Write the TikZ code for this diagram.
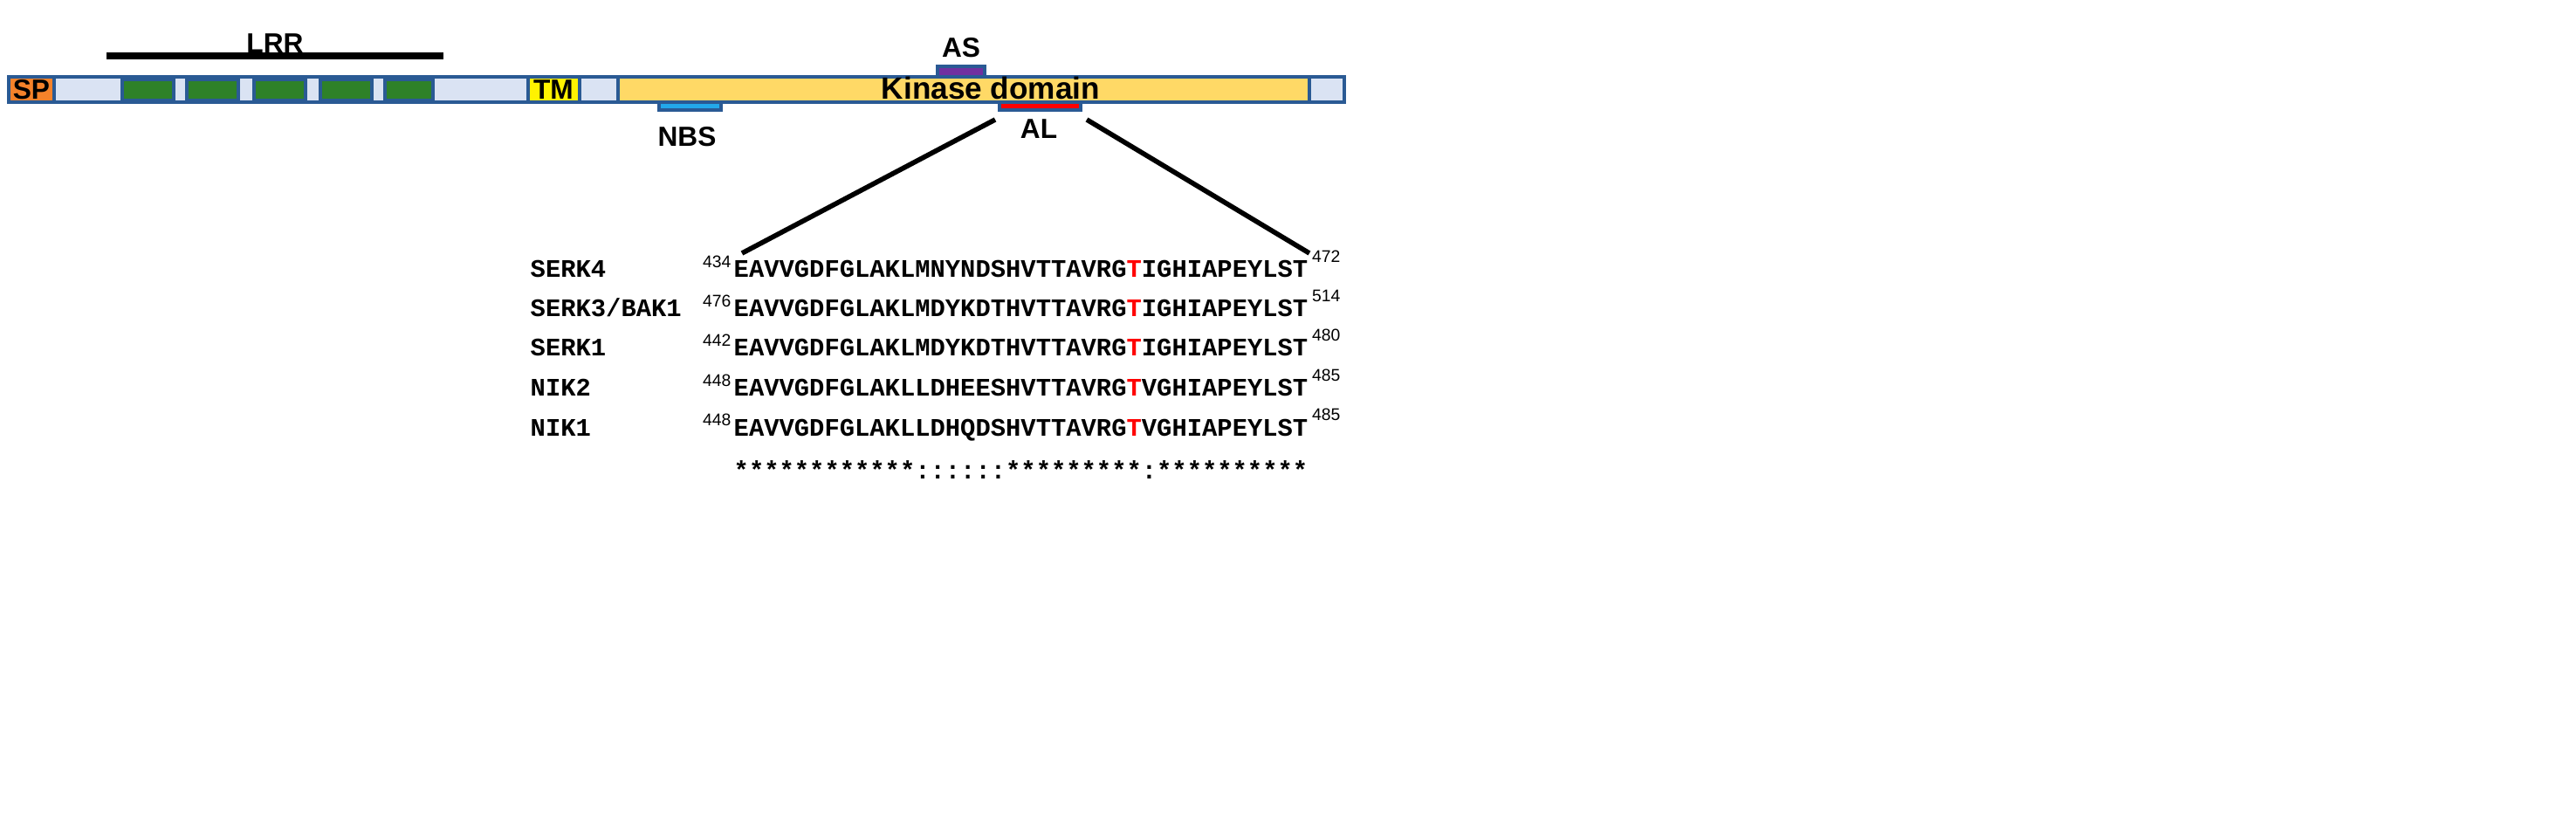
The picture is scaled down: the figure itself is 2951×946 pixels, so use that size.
\documentclass[tikz,border=0pt]{standalone}
\usepackage{fontspec}
\setmainfont{Liberation Sans}
\newfontfamily\mono{Liberation Mono}
\definecolor{barbg}{HTML}{DAE3F3}
\definecolor{barln}{HTML}{2A5A94}
\definecolor{lrrg}{HTML}{2E8128}
\definecolor{spor}{HTML}{F5822A}
\definecolor{kin}{HTML}{FFD966}
\definecolor{asp}{HTML}{7030A0}
\definecolor{nbs}{HTML}{22A8EA}
\begin{document}
\begin{tikzpicture}[x=0.01cm,y=-0.01cm,
  seg/.style={draw=barln,line width=1.2pt},
  lab/.style={font=\fontsize{9}{10}\selectfont\bfseries,inner sep=0pt},
  nm/.style={font=\mono\fontsize{8.2}{9}\selectfont\bfseries,anchor=base west,inner sep=0pt},
  sq/.style={font=\mono\fontsize{8.2}{9}\selectfont\bfseries,anchor=base west,inner sep=0pt},
  sup/.style={font=\fontsize{5.5}{6}\selectfont,anchor=base east,inner sep=0pt}]
\useasboundingbox (0,0) rectangle (2951,946);
\draw[seg,fill=barbg] (10,88) rectangle (1540,117);
\draw[seg,fill=spor] (10,88) rectangle (62,117);
\node[lab] at (36,103) {SP};
\foreach \a/\b in {140/199,214/273,291/350,367/426,441/496}
  \draw[seg,fill=lrrg] (\a,91) rectangle (\b,115);
\draw[line width=2.2pt] (122,64) -- (508,64);
\node[lab] (lrr) at (315,50) {LRR};
\draw[seg,fill=yellow] (605,88) rectangle (664,117);
\node[lab] at (634,103) {TM};
\draw[seg,fill=kin] (708,88) rectangle (1500,117);
\node[lab,font=\fontsize{10}{11}\selectfont\bfseries] at (1135,101) {Kinase domain};
\draw[seg,fill=asp] (1074,76) rectangle (1128,88);
\node[lab] at (1101,55) {AS};
\draw[seg,fill=nbs] (755,117) rectangle (826,126);
\node[lab] at (787,157) {NBS};
\draw[seg,fill=red] (1145,117) rectangle (1238,126);
\node[lab] at (1190,148) {AL};
\coordinate (l1) at (1140,137); \coordinate (l2) at (850,290);
\coordinate (r1) at (1245,137); \coordinate (r2) at (1500,290);
\draw[line width=1.6pt] (l1) -- (l2);
\draw[line width=1.6pt] (r1) -- (r2);
\foreach \y/\n/\s/\e/\p/\r/\q in {
  318/SERK4/434/472/MNYNDSHVTTAVRG/I/GHIAPEYLST,
  363/SERK3\slash BAK1/476/514/MDYKDTHVTTAVRG/I/GHIAPEYLST,
  408/SERK1/442/480/MDYKDTHVTTAVRG/I/GHIAPEYLST,
  454/NIK2/448/485/LDHEESHVTTAVRG/V/GHIAPEYLST,
  499/NIK1/448/485/LDHQDSHVTTAVRG/V/GHIAPEYLST}{
  \node[nm] at (607,\y) {\n};
  \node[sup] at (838,\y-11) {\s};
  \node[sq] (s) at (840,\y) {EAVVGDFGLAKL\p\textcolor{red}{T}\r\q};
  \node[font=\fontsize{5.5}{6}\selectfont,anchor=base west,inner sep=0pt] at ([xshift=1pt,yshift=5pt]s.base east) {\e};
}
\node[sq] at (840,549) {************::::::*********:**********};
\end{tikzpicture}
\end{document}
